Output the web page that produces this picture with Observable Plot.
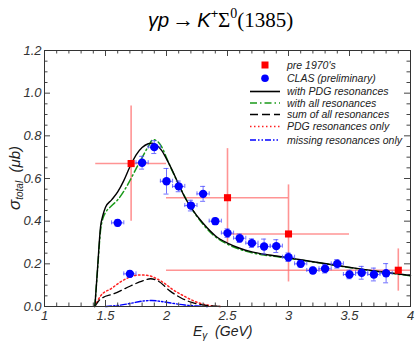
<!DOCTYPE html>
<html>
<head>
<meta charset="utf-8">
<script src="https://cdn.jsdelivr.net/npm/d3@7"></script>
<script src="https://cdn.jsdelivr.net/npm/@observablehq/plot@0.6"></script>
<style>
  body { margin: 0; background: #fff; }
  #wrap { position: relative; width: 415px; height: 344px; overflow: hidden; font-family: "Liberation Sans", Arial, sans-serif; }
  #title { position: relative; height: 40px; }
  #title .t { position: absolute; left: 148px; top: 9px; line-height: 22px; white-space: nowrap; color: #000; }
  .sans { font-family: "Liberation Sans", Arial, sans-serif; font-style: italic; font-size: 20px; }
  .serif { font-family: "Liberation Serif", "Times New Roman", serif; font-size: 21px; }
  .arrow { font-family: "Liberation Serif", serif; font-size: 22px; margin: 0 3px; }
  sup { font-size: 13px; vertical-align: 0; position: relative; top: -9px; }
  .xlab { position: absolute; left: 193px; top: 324px; font-size: 14px; line-height: 15px; font-style: italic; color: #222; white-space: nowrap; }
  .xlab sub { font-size: 10px; position: relative; top: 3px; vertical-align: 0; }
  .ylab { position: absolute; left: 15px; top: 178px; transform: translate(-50%, -50%) rotate(-90deg); font-size: 15px; font-style: italic; color: #222; white-space: nowrap; }
  .ylab .sig { font-size: 17px; }
  .ylab sub { font-size: 10px; position: relative; top: 3px; vertical-align: 0; }
  #legend { position: absolute; left: 0; top: 0; pointer-events: none; }
</style>
</head>
<body>
<div id="wrap">
  <div id="title"><div class="t"><span class="sans">γp</span><span class="arrow">→</span><span class="sans">K</span><sup class="sans" style="font-size:13px">+</sup><span class="serif">Σ</span><sup class="serif" style="font-size:14px">0</sup><span class="serif">(1385)</span></div></div>
  <div id="chart"></div>
  <div class="xlab">E<sub>γ</sub>&nbsp;&nbsp;(GeV)</div>
  <div class="ylab"><span class="sig">σ</span><sub>total</sub>&nbsp;&nbsp;(μb)</div>
</div>
<script>
// ---------- data ----------
// pre 1970's measurements
const preE    = [1.71, 2.50, 3.00, 3.90];
const preSig  = [0.67, 0.51, 0.34, 0.17];
const preELo  = [1.42, 2.00, 2.50, 2.00];
const preEHi  = [2.00, 3.00, 3.50, 4.00];
const preSLo  = [0.40, 0.30, 0.115, 0.072];
const preSHi  = [0.94, 0.74, 0.57, 0.27];

// CLAS (preliminary)
const clasE   = [1.60, 1.70, 1.80, 1.90, 2.00, 2.10, 2.20, 2.30, 2.40, 2.50, 2.60, 2.70, 2.80, 2.90, 3.00, 3.10, 3.20, 3.30, 3.40, 3.50, 3.60, 3.70, 3.80];
const clasSig = [0.392, 0.153, 0.674, 0.747, 0.587, 0.563, 0.473, 0.528, 0.400, 0.344, 0.320, 0.297, 0.281, 0.283, 0.231, 0.200, 0.169, 0.177, 0.200, 0.150, 0.158, 0.150, 0.156];
const clasErr = [0.015, 0.015, 0.030, 0.030, 0.060, 0.025, 0.025, 0.035, 0.015, 0.020, 0.020, 0.020, 0.035, 0.030, 0.020, 0.015, 0.015, 0.020, 0.020, 0.020, 0.030, 0.030, 0.045];
const clasEErr = 0.05;

// model curves
const pdgE   = [1.413, 1.435, 1.459, 1.48, 1.50, 1.55, 1.60, 1.65, 1.70, 1.75, 1.80, 1.85, 1.88, 1.92, 1.96, 2.00, 2.05, 2.10, 2.15, 2.20, 2.30, 2.40, 2.50, 2.60, 2.70, 2.80, 2.90, 3.00, 3.20, 3.40, 3.60, 3.80, 4.00];
const pdgSig = [0.000, 0.180, 0.372, 0.430, 0.465, 0.500, 0.537, 0.590, 0.655, 0.710, 0.745, 0.763, 0.766, 0.756, 0.732, 0.692, 0.635, 0.572, 0.512, 0.465, 0.390, 0.332, 0.297, 0.273, 0.256, 0.245, 0.237, 0.228, 0.210, 0.192, 0.175, 0.160, 0.145];

const allE   = [1.413, 1.435, 1.46, 1.48, 1.50, 1.55, 1.60, 1.65, 1.70, 1.75, 1.80, 1.85, 1.89, 1.93, 1.97, 2.00, 2.05, 2.10, 2.15, 2.20, 2.30, 2.40, 2.50, 2.60, 2.70, 2.80, 2.90, 3.00, 3.20, 3.40, 3.60, 3.80, 4.00];
const allSig = [0.000, 0.175, 0.360, 0.415, 0.440, 0.472, 0.500, 0.540, 0.590, 0.645, 0.698, 0.750, 0.782, 0.772, 0.738, 0.697, 0.632, 0.572, 0.515, 0.465, 0.385, 0.327, 0.292, 0.268, 0.252, 0.241, 0.234, 0.226, 0.209, 0.191, 0.174, 0.159, 0.144];

const sumE   = [1.413, 1.46, 1.57, 1.70, 1.78, 1.87, 1.93, 2.03, 2.12, 2.20, 2.33, 2.45];
const sumSig = [0.000, 0.035, 0.060, 0.095, 0.115, 0.130, 0.120, 0.072, 0.040, 0.020, 0.005, 0.000];

const pdgOnlyE   = [1.413, 1.46, 1.55, 1.62, 1.70, 1.78, 1.85, 1.92, 1.98, 2.05, 2.14, 2.25, 2.35, 2.45];
const pdgOnlySig = [0.000, 0.050, 0.085, 0.114, 0.138, 0.148, 0.145, 0.130, 0.110, 0.080, 0.050, 0.020, 0.005, 0.000];

const missE   = [1.50, 1.60, 1.70, 1.80, 1.88, 1.95, 2.05, 2.15, 2.25, 2.35];
const missSig = [0.000, 0.005, 0.014, 0.025, 0.028, 0.024, 0.015, 0.007, 0.002, 0.000];

// axis ticks
const xMajor = [1, 1.5, 2, 2.5, 3, 3.5, 4];
const xMinor = [1.1,1.2,1.3,1.4,1.6,1.7,1.8,1.9,2.1,2.2,2.3,2.4,2.6,2.7,2.8,2.9,3.1,3.2,3.3,3.4,3.6,3.7,3.8,3.9];
const yMajor = [0, 0.2, 0.4, 0.6, 0.8, 1.0, 1.2];
const yMinor = [0.05,0.1,0.15,0.25,0.3,0.35,0.45,0.5,0.55,0.65,0.7,0.75,0.85,0.9,0.95,1.05,1.1,1.15];

// ---------- build tables ----------
const pre = preE.map((e, i) => ({E: e, s: preSig[i], eLo: preELo[i], eHi: preEHi[i], sLo: preSLo[i], sHi: preSHi[i]}));
const clas = clasE.map((e, i) => ({E: e, s: clasSig[i], err: clasErr[i]}));
const toPts = (xs, ys) => xs.map((e, i) => ({E: e, s: ys[i]}));
const cPdg = toPts(pdgE, pdgSig);
const cAll = toPts(allE, allSig);
const cSum = toPts(sumE, sumSig);
const cPdgOnly = toPts(pdgOnlyE, pdgOnlySig);
const cMiss = toPts(missE, missSig);

const W = 415, H = 304, mT = 10, mB = 38, mL = 44, mR = 5;
const fw = W - mL - mR, fh = H - mT - mB;
const major = 6, minor = 3.5;
const tickColor = "#444";
const preColor = "#ff7070";
const errBlue = "#4d4dff";

const chart = Plot.plot({
  width: W, height: H,
  marginTop: mT, marginBottom: mB, marginLeft: mL, marginRight: mR,
  style: {fontFamily: "'Liberation Sans', Arial, sans-serif", fontStyle: "italic", fontSize: "13px", color: "#333", background: "transparent", overflow: "visible"},
  x: {domain: [1, 4], ticks: xMajor, tickSize: 0, tickPadding: 4, tickFormat: d => d3.format("~g")(d), label: null},
  y: {domain: [0, 1.2], ticks: yMajor, tickSize: 0, tickPadding: 3, tickFormat: d3.format(".1f"), label: null},
  marks: [
    // pre-1970 error bars
    Plot.ruleY(pre, {y: "s", x1: "eLo", x2: "eHi", stroke: preColor, strokeWidth: 1.6, strokeOpacity: 0.75}),
    Plot.ruleX(pre, {x: "E", y1: "sLo", y2: "sHi", stroke: preColor, strokeWidth: 1.6, strokeOpacity: 0.75}),
    // model curves
    Plot.line(cMiss, {x: "E", y: "s", stroke: "#0000ff", strokeWidth: 1.4, strokeDasharray: "6,2,1.5,2,1.5,2", curve: "monotone-x"}),
    Plot.line(cPdgOnly, {x: "E", y: "s", stroke: "#ff2020", strokeWidth: 1.5, strokeDasharray: "1.5,2.5", curve: "monotone-x"}),
    Plot.line(cSum, {x: "E", y: "s", stroke: "#000", strokeWidth: 1.3, strokeDasharray: "8,4", curve: "monotone-x"}),
    Plot.line(cAll, {x: "E", y: "s", stroke: "#1a9a1a", strokeWidth: 1.5, strokeDasharray: "7,3,1.5,3", curve: "monotone-x"}),
    Plot.line(cPdg, {x: "E", y: "s", stroke: "#000", strokeWidth: 1.4, curve: "monotone-x"}),
    // CLAS error bars
    Plot.ruleY(clas, {y: "s", x1: d => d.E - clasEErr, x2: d => d.E + clasEErr, stroke: errBlue, strokeWidth: 1, strokeOpacity: 0.8}),
    Plot.ruleX(clas, {x: "E", y1: d => d.s - d.err, y2: d => d.s + d.err, stroke: errBlue, strokeWidth: 1, strokeOpacity: 0.8}),
    Plot.ruleX(clas, {x: d => d.E - clasEErr, y1: "s", y2: "s", insetTop: -2, insetBottom: -2, stroke: errBlue, strokeWidth: 1, strokeOpacity: 0.8}),
    Plot.ruleX(clas, {x: d => d.E + clasEErr, y1: "s", y2: "s", insetTop: -2, insetBottom: -2, stroke: errBlue, strokeWidth: 1, strokeOpacity: 0.8}),
    Plot.ruleY(clas, {y: d => d.s - d.err, x1: "E", x2: "E", insetLeft: -2.5, insetRight: -2.5, stroke: errBlue, strokeWidth: 1, strokeOpacity: 0.8}),
    Plot.ruleY(clas, {y: d => d.s + d.err, x1: "E", x2: "E", insetLeft: -2.5, insetRight: -2.5, stroke: errBlue, strokeWidth: 1, strokeOpacity: 0.8}),
    Plot.dot(clas, {x: "E", y: "s", r: 4.2, fill: "#0000ff", stroke: "none"}),
    // pre-1970 points
    Plot.dot(pre, {x: "E", y: "s", symbol: "square", r: 4, fill: "#ff0000", stroke: "none"}),
    // inward ticks
    Plot.ruleX(xMajor, {x: d => d, insetTop: fh - major, stroke: tickColor}),
    Plot.ruleX(xMajor, {x: d => d, insetBottom: fh - major, stroke: tickColor}),
    Plot.ruleX(xMinor, {x: d => d, insetTop: fh - minor, stroke: tickColor}),
    Plot.ruleX(xMinor, {x: d => d, insetBottom: fh - minor, stroke: tickColor}),
    Plot.ruleY(yMajor, {y: d => d, insetRight: fw - major, stroke: tickColor}),
    Plot.ruleY(yMajor, {y: d => d, insetLeft: fw - major, stroke: tickColor}),
    Plot.ruleY(yMinor, {y: d => d, insetRight: fw - minor, stroke: tickColor}),
    Plot.ruleY(yMinor, {y: d => d, insetLeft: fw - minor, stroke: tickColor}),
    Plot.frame({stroke: "#333", strokeWidth: 1})
  ]
});
document.getElementById("chart").appendChild(chart);

// ---------- legend (inside plot area, top right) ----------
const legendItems = [
  {label: "pre 1970's", kind: "square"},
  {label: "CLAS (preliminary)", kind: "circle"},
  {label: "with PDG resonances", kind: "line", stroke: "#000", dash: null, w: 1.6},
  {label: "with all resonances", kind: "line", stroke: "#1a9a1a", dash: "7,3,1.5,3", w: 1.5},
  {label: "sum of all resonances", kind: "line", stroke: "#000", dash: "8,4", w: 1.4},
  {label: "PDG resonances only", kind: "line", stroke: "#ff2020", dash: "1.5,2.5", w: 1.5},
  {label: "missing resonances only", kind: "line", stroke: "#0000ff", dash: "6,2,1.5,2,1.5,2", w: 1.4}
];
const rowY = [65, 78.3, 91.5, 103, 114.5, 126.5, 140];
const lg = d3.select("#wrap").append("svg").attr("id", "legend").attr("width", 415).attr("height", 344);
legendItems.forEach((it, i) => {
  const y = rowY[i];
  if (it.kind === "square") {
    lg.append("rect").attr("x", 265 - 3.5).attr("y", y - 3.5).attr("width", 7).attr("height", 7).attr("fill", "#ff0000");
  } else if (it.kind === "circle") {
    lg.append("circle").attr("cx", 265).attr("cy", y).attr("r", 3.8).attr("fill", "#0000ff");
  } else {
    const l = lg.append("line").attr("x1", 250).attr("x2", 280).attr("y1", y).attr("y2", y)
      .attr("stroke", it.stroke).attr("stroke-width", it.w);
    if (it.dash) l.attr("stroke-dasharray", it.dash);
  }
  lg.append("text").attr("x", 287).attr("y", y).attr("dy", "0.35em")
    .attr("font-family", "'Liberation Sans', Arial, sans-serif").attr("font-style", "italic")
    .attr("font-size", "10.5px").attr("fill", "#222").text(it.label);
});
</script>
</body>
</html>
